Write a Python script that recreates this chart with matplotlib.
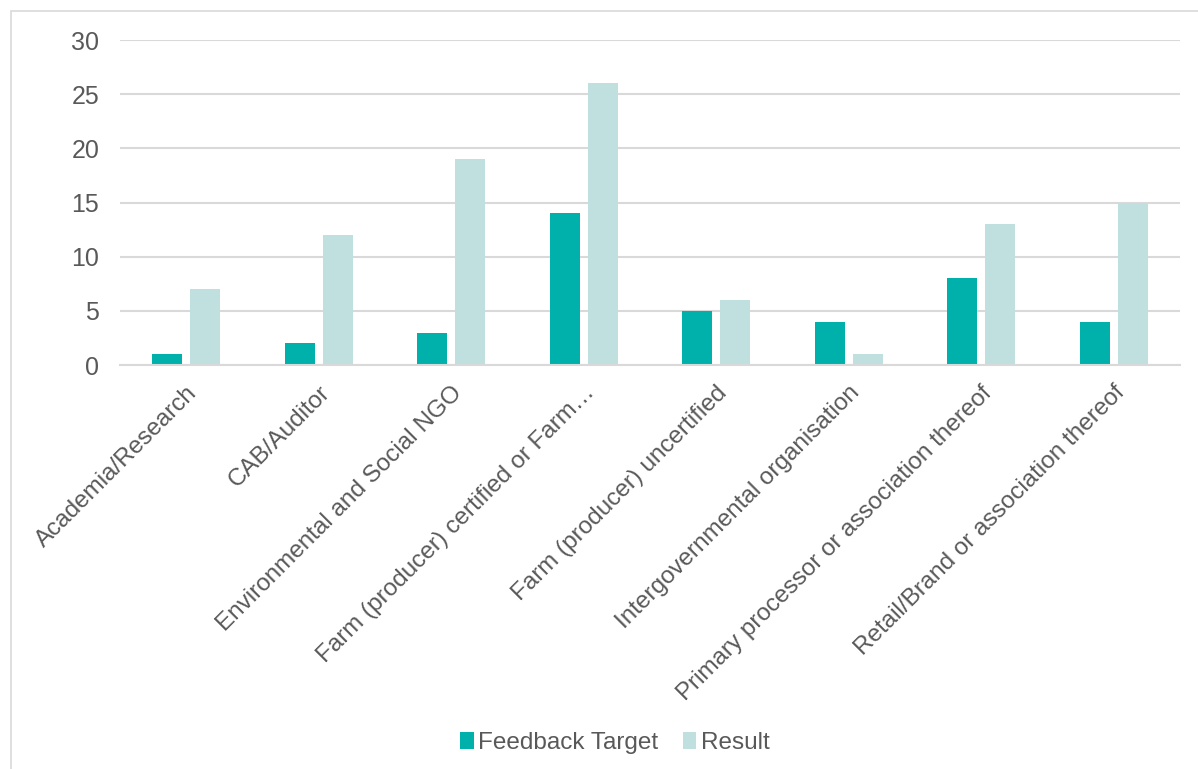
import matplotlib.pyplot as plt
import numpy as np
from matplotlib.patches import Rectangle

plt.rcParams['font.family'] = ['Liberation Sans', 'DejaVu Sans']

categories = ['Academia/Research', 'CAB/Auditor', 'Environmental and Social NGO',
              'Farm (producer) certified or Farm\u2026', 'Farm (producer) uncertified',
              'Intergovernmental organisation', 'Primary processor or association thereof',
              'Retail/Brand or association thereof']
feedback_target = [1, 2, 3, 14, 5, 4, 8, 4]
result = [7, 12, 19, 26, 6, 1, 13, 15]

dark = '#00B0AA'
light = '#BFE0DF'
txt = '#595959'

fig = plt.figure(figsize=(11.98, 7.69), dpi=100)
# outer chart border
fig.patches.append(Rectangle((11/1198, -0.01), 1.02, 1 - 11/769 + 0.01,
                             transform=fig.transFigure, fill=False,
                             edgecolor='#D9D9D9', linewidth=1.2))

ax = fig.add_axes([120/1198, 1 - 365/769, 1060/1198, 325/769])

x = np.arange(len(categories))
w = 0.226
ax.bar(x - 0.143, feedback_target, w, color=dark, label='Feedback Target')
ax.bar(x + 0.143, result, w, color=light, label='Result')

ax.set_xlim(-0.5, len(categories) - 0.5)
ax.set_ylim(0, 30)
ax.set_yticks(range(0, 31, 5))
ax.yaxis.grid(True, color='#D9D9D9', linewidth=1.5)
ax.set_axisbelow(True)
for s in ['top', 'right', 'left']:
    ax.spines[s].set_visible(False)
ax.spines['bottom'].set_color('#D9D9D9')
ax.spines['bottom'].set_linewidth(1.5)
ax.tick_params(axis='y', length=0, labelsize=18, colors=txt, pad=15)
ax.tick_params(axis='x', length=0, labelsize=17.5, colors=txt, pad=12)
ax.set_xticks(x)
ax.set_xticklabels(categories, rotation=45, ha='right', rotation_mode='anchor')

ax.legend(loc='center', bbox_to_anchor=(615/1198, 1 - 743/769),
          bbox_transform=fig.transFigure, ncol=2, frameon=False,
          fontsize=17.5, labelcolor=txt, handlelength=0.55, handleheight=0.7,
          handletextpad=0.2, columnspacing=1.0)

fig.savefig('out.png', dpi=100)
